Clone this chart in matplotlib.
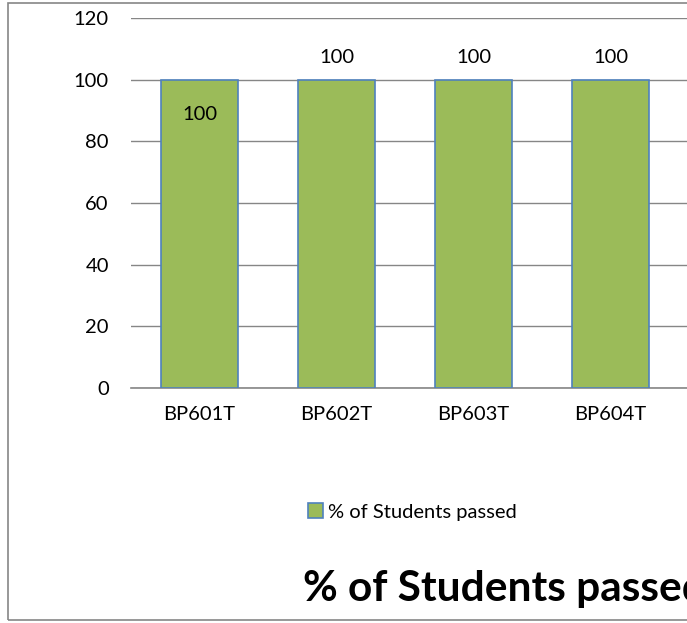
import matplotlib.pyplot as plt
from matplotlib.patches import Rectangle

# chart data
subjects = ["BP601T", "BP602T", "BP603T", "BP604T"]
pass_pct = [100, 100, 100, 100]
series_name = "% of Students passed"
chart_title = "% of Students passed"

plt.rcParams["font.family"] = ["Lato", "DejaVu Sans"]

fig = plt.figure(figsize=(6.87, 6.23), dpi=100)

# axes run past the right edge, the picture is a cropped chart
ax = fig.add_axes([131 / 687, 1 - 388 / 623, 685 / 687, 370 / 623])

x = list(range(len(subjects)))
bars = ax.bar(x, pass_pct, width=0.56, color="#9BBB59", edgecolor="#4F81BD",
              linewidth=1.2, zorder=3, label=series_name)

ax.set_xlim(-0.5, 4.5)
ax.set_ylim(0, 120)
ax.set_yticks(range(0, 121, 20))
ax.set_xticks(x)
ax.set_xticklabels(subjects)
ax.tick_params(axis="both", length=0, labelsize=14.5)
ax.tick_params(axis="y", pad=16)
ax.tick_params(axis="x", pad=13)
ax.grid(axis="y", color="#868686", linewidth=1, zorder=0)
for side in ["top", "right", "left"]:
    ax.spines[side].set_visible(False)
ax.spines["bottom"].set_color("#868686")
ax.spines["bottom"].set_linewidth(1.2)

# data labels: first one inside the bar, the rest above
for i, (xi, v) in enumerate(zip(x, pass_pct)):
    if i == 0:
        ax.annotate(str(v), (xi, v), xytext=(0, -25), textcoords="offset points",
                    ha="center", va="center", fontsize=14.5)
    else:
        ax.annotate(str(v), (xi, v), xytext=(0, 16), textcoords="offset points",
                    ha="center", va="center", fontsize=14.5)

fig.legend(handles=[bars], labels=[series_name], loc="center left",
           bbox_to_anchor=(308 / 687, 1 - 512 / 623), frameon=False, borderpad=0,
           borderaxespad=0, fontsize=14.5, handlelength=0.72, handleheight=0.72,
           handletextpad=0.25)

fig.text(303 / 687, 1 - 601 / 623, chart_title, fontsize=30.5, fontweight="bold",
         ha="left", va="baseline")

# outer chart border
fig.patches.append(Rectangle((8 / 687, 3 / 623), 1.2, 617 / 623, transform=fig.transFigure,
                             fill=False, edgecolor="#868686", linewidth=1.2))

fig.savefig("out.png", dpi=100)
